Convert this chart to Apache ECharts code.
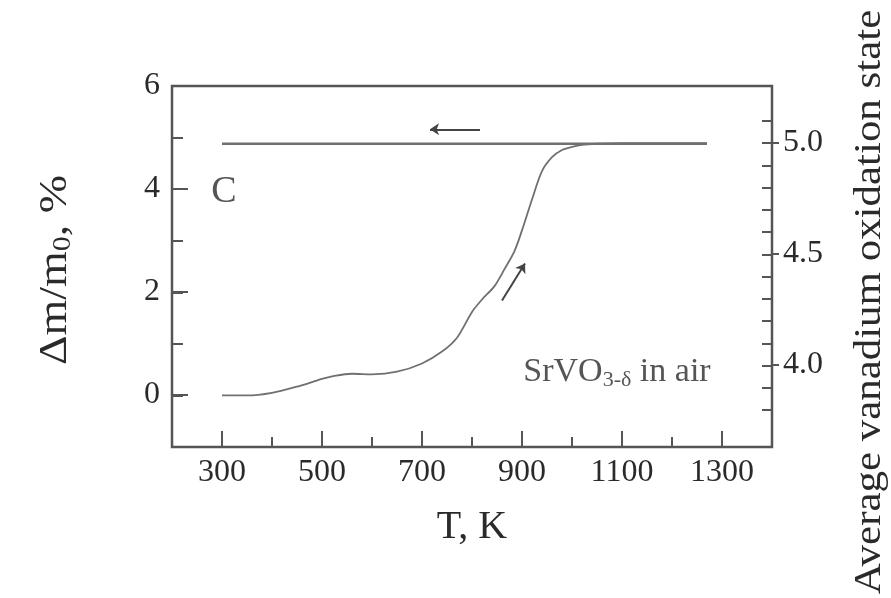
<!DOCTYPE html>
<html>
<head>
<meta charset="utf-8">
<script src="https://cdn.jsdelivr.net/npm/echarts@6/dist/echarts.min.js"></script>
<style>html,body{margin:0;padding:0;background:#fff;}#chart{width:891px;height:598px;}</style>
</head>
<body>
<div id="chart"></div>
<script>
// ---- data ----
const heatingT  = [300, 350, 400, 450, 500, 525, 560, 600, 650, 700, 740, 770, 800, 820, 845, 865, 885, 900, 920, 940, 960, 980, 1000, 1020, 1050, 1100, 1150, 1200, 1270];
const heatingDm = [0, 0, 0.05, 0.17, 0.32, 0.38, 0.42, 0.41, 0.46, 0.62, 0.85, 1.12, 1.62, 1.86, 2.12, 2.45, 2.8, 3.2, 3.8, 4.35, 4.62, 4.76, 4.82, 4.86, 4.88, 4.89, 4.89, 4.89, 4.89];
const coolingT  = [1270, 300];
const coolingDm = [4.88, 4.88];
const arrowCoolT = [816, 716];
const arrowCoolDm = [5.16, 5.16];
const arrowHeatT = [860, 906];
const arrowHeatDm = [1.84, 2.56];
const xTickLabels = [300, 500, 700, 900, 1100, 1300];
const yLeftTickLabels = [0, 2, 4, 6];
const yRightTickLabels = [4.0, 4.5, 5.0];
const panelLabel = ['C', 304, 3.95];
const sampleLabel = ['SrVO{sub|3-δ} in air', 1090, 0.45];

const FONT = 'Liberation Serif';
const AX = '#555555';
const LINE = '#707070';
const TXT = '#2a2a2a';

const zip = (a, b) => a.map((v, i) => [v, b[i]]);

const chart = echarts.init(document.getElementById('chart'));
const noLine = { show: false, onZero: false };

const option = {
  backgroundColor: '#ffffff',
  animation: false,
  grid: [
    { left: 172, right: 119, top: 86, bottom: 151, show: true, borderColor: AX, borderWidth: 2.5, backgroundColor: 'transparent' }, // main frame, minor ticks
    { left: 222, right: 169, top: 86, bottom: 151 },   // x major ticks 300..1300
    { left: 172, right: 119, top: 86, bottom: 203 },   // left major ticks 0..6
    { left: 172, right: 119, top: 121, bottom: 188 },  // right minor ticks 3.8..5.1
    { left: 172, right: 119, top: 143, bottom: 233 }   // right major ticks 4.0..5.0
  ],
  xAxis: [
    { gridIndex: 0, type: 'value', min: 200, max: 1400, interval: 100,
      axisLine: noLine, splitLine: { show: false }, axisLabel: { show: false },
      axisTick: { show: true, inside: true, length: 10, lineStyle: { color: AX, width: 2 } },
      name: 'T, K', nameLocation: 'middle', nameGap: 60,
      nameTextStyle: { fontFamily: FONT, fontSize: 40, color: TXT } },
    { gridIndex: 1, type: 'value', min: xTickLabels[0], max: xTickLabels[xTickLabels.length - 1], interval: 200,
      axisLine: noLine, splitLine: { show: false },
      axisTick: { show: true, inside: true, length: 16, lineStyle: { color: AX, width: 2 } },
      axisLabel: { show: true, margin: 10, fontFamily: FONT, fontSize: 32, color: TXT,
        formatter: v => xTickLabels.includes(v) ? String(v) : '' } },
    { gridIndex: 2, type: 'value', min: 0, max: 1, show: false },
    { gridIndex: 3, type: 'value', min: 0, max: 1, show: false },
    { gridIndex: 4, type: 'value', min: 0, max: 1, show: false }
  ],
  yAxis: [
    { gridIndex: 0, type: 'value', min: -1, max: 6, interval: 1,
      axisLine: noLine, splitLine: { show: false }, axisLabel: { show: false },
      axisTick: { show: true, inside: true, length: 11, lineStyle: { color: AX, width: 2 } } },
    { gridIndex: 1, type: 'value', min: 0, max: 1, show: false },
    { gridIndex: 2, type: 'value', min: 0, max: 6, interval: 2,
      axisLine: noLine, splitLine: { show: false },
      axisTick: { show: true, inside: true, length: 16, lineStyle: { color: AX, width: 2 } },
      axisLabel: { show: true, margin: 12, fontFamily: FONT, fontSize: 32, color: TXT,
        formatter: v => yLeftTickLabels.includes(v) ? String(v) : '' } },
    { gridIndex: 3, type: 'value', position: 'right', min: 3.8, max: 5.1, interval: 0.1,
      axisLine: noLine, splitLine: { show: false }, axisLabel: { show: false },
      axisTick: { show: true, inside: true, length: 10, lineStyle: { color: AX, width: 2 } } },
    { gridIndex: 4, type: 'value', position: 'right', min: 4.0, max: 5.0, interval: 0.5,
      axisLine: noLine, splitLine: { show: false },
      axisTick: { show: true, inside: false, length: 7, lineStyle: { color: AX, width: 2 } },
      axisLabel: { show: true, margin: 11, fontFamily: FONT, fontSize: 32, color: TXT,
        formatter: v => { const m = yRightTickLabels.find(t => Math.abs(t - v) < 1e-6); return m === undefined ? '' : m.toFixed(1); } } }
  ],
  graphic: [
    { type: 'text', x: 870, y: 302, rotation: Math.PI / 2, scaleX: 1.16,
      style: { text: 'Average vanadium oxidation state', fontFamily: FONT, fontSize: 37, fill: TXT,
        align: 'center', verticalAlign: 'middle' } },
    { type: 'text', x: 55, y: 270, rotation: Math.PI / 2, scaleX: 1.15,
      style: { text: '{a|Δm/m}{s|0}{a|, %}', fontFamily: FONT, fontSize: 40, fill: TXT,
        align: 'center', verticalAlign: 'middle',
        rich: { a: { fontFamily: FONT, fontSize: 40, fill: TXT, color: TXT },
                s: { fontFamily: FONT, fontSize: 26, fill: TXT, color: TXT, padding: [16, 0, 0, 0] } } } }
  ],
  series: [
    { type: 'line', xAxisIndex: 0, yAxisIndex: 0, data: zip(coolingT, coolingDm), showSymbol: false,
      lineStyle: { color: LINE, width: 2.5 } },
    { type: 'line', xAxisIndex: 0, yAxisIndex: 0, data: zip(heatingT, heatingDm), showSymbol: false, smooth: 0.3,
      lineStyle: { color: LINE, width: 1.8 } },
    { type: 'lines', coordinateSystem: 'cartesian2d', xAxisIndex: 0, yAxisIndex: 0,
      symbol: ['none', 'arrow'], symbolSize: 9,
      lineStyle: { color: '#444', width: 2, opacity: 1 },
      data: [
        { coords: zip(arrowCoolT, arrowCoolDm) },
        { coords: zip(arrowHeatT, arrowHeatDm) }
      ] },
    { type: 'scatter', xAxisIndex: 0, yAxisIndex: 0, symbolSize: 0,
      data: [[panelLabel[1], panelLabel[2]]],
      label: { show: true, position: 'inside', formatter: panelLabel[0], fontFamily: FONT, fontSize: 38, color: TXT } },
    { type: 'scatter', xAxisIndex: 0, yAxisIndex: 0, symbolSize: 0,
      data: [[sampleLabel[1], sampleLabel[2]]],
      label: { show: true, position: 'inside', formatter: sampleLabel[0], fontFamily: FONT, fontSize: 34, color: TXT,
        rich: { sub: { fontFamily: FONT, fontSize: 22, color: TXT, padding: [16, 0, 0, 0] } } } }
  ]
};
chart.setOption(option);
</script>
</body>
</html>
